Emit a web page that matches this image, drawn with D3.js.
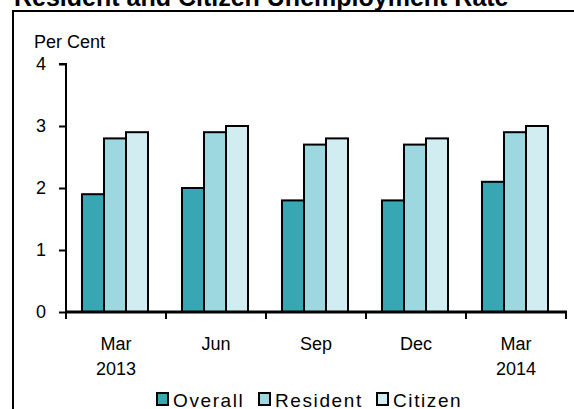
<!DOCTYPE html>
<html>
<head>
<meta charset="utf-8">
<script src="https://cdn.jsdelivr.net/npm/d3@7"></script>
<style>
  html, body { margin: 0; padding: 0; background: #fff; }
  svg { display: block; }
  text { font-family: "Liberation Sans", Arial, sans-serif; fill: #000; }
</style>
</head>
<body>
<svg id="chart" width="574" height="409"></svg>
<script>
// Quarterly unemployment rates (per cent)
const periods = ["Mar 2013", "Jun", "Sep", "Dec", "Mar 2014"];
const periodLines = [["Mar", "2013"], ["Jun"], ["Sep"], ["Dec"], ["Mar", "2014"]];
const seriesNames = ["Overall", "Resident", "Citizen"];
const overall  = [1.9, 2.0, 1.8, 1.8, 2.1];
const resident = [2.8, 2.9, 2.7, 2.7, 2.9];
const citizen  = [2.9, 3.0, 2.8, 2.8, 3.0];
const yTicks = [0, 1, 2, 3, 4];
const colors = ["#37a7b4", "#9dd8e1", "#d1edf1"];

const seriesValues = [overall, resident, citizen];
const rows = periods.map((p, i) => ({
  period: p,
  lines: periodLines[i],
  values: seriesNames.map((s, j) => ({ key: s, value: seriesValues[j][i] }))
}));

const svg = d3.select("#chart");

// Title (runs off the top edge of the frame)
svg.append("text")
  .attr("x", 14).attr("y", 6)
  .style("font-weight", "bold").style("font-size", "25px")
  .text("Resident and Citizen Unemployment Rate");

// Frame around the chart
svg.append("rect")
  .attr("x", 13).attr("y", 11)
  .attr("width", 600).attr("height", 420)
  .attr("fill", "none").attr("stroke", "#000").attr("stroke-width", 2);

const plotLeft = 66, plotRight = 566, plotTop = 64, plotBottom = 312;

const x0 = d3.scaleBand().domain(periods).range([plotLeft, plotRight]).paddingInner(0).paddingOuter(0);
const x1 = d3.scaleBand().domain(seriesNames).range([16, 82]);
const y = d3.scaleLinear().domain([0, 4]).range([plotBottom, plotTop]);
const color = d3.scaleOrdinal().domain(seriesNames).range(colors);

// Bars
const groups = svg.append("g").selectAll("g").data(rows).join("g")
  .attr("transform", d => `translate(${x0(d.period)},0)`);
groups.selectAll("rect").data(d => d.values).join("rect")
  .attr("x", d => x1(d.key))
  .attr("y", d => y(d.value))
  .attr("width", x1.bandwidth())
  .attr("height", d => y(0) - y(d.value))
  .attr("fill", d => color(d.key))
  .attr("stroke", "#000").attr("stroke-width", 2);

// Y axis
const yAxis = svg.append("g")
  .attr("transform", `translate(${plotLeft},0)`)
  .call(d3.axisLeft(y).tickValues(yTicks).tickFormat(d3.format("d")).tickSize(7).tickPadding(13));
yAxis.select(".domain").attr("stroke-width", 2).attr("d", `M-7,${plotTop}H0V${plotBottom}`);
yAxis.selectAll(".tick line").attr("stroke-width", 2);
yAxis.selectAll(".tick text").style("font-size", "18px").style("font-family", "Liberation Sans, Arial, sans-serif");

// X axis: ticks at category boundaries
const xAxisG = svg.append("g").attr("transform", `translate(0,${plotBottom})`);
xAxisG.append("line")
  .attr("x1", plotLeft - 1).attr("x2", plotRight + 1)
  .attr("stroke", "#000").attr("stroke-width", 3);
const boundaries = periods.map(p => x0(p)).concat([x0(periods[periods.length - 1]) + x0.bandwidth()]);
xAxisG.selectAll("line.tk").data(boundaries).join("line")
  .attr("class", "tk")
  .attr("x1", d => d).attr("x2", d => d)
  .attr("y1", 0).attr("y2", 7)
  .attr("stroke", "#000").attr("stroke-width", 2);
const labels = xAxisG.selectAll("text.lbl").data(rows).join("text")
  .attr("class", "lbl")
  .attr("text-anchor", "middle")
  .attr("x", d => x0(d.period) + x0.bandwidth() / 2)
  .style("font-size", "18px");
labels.selectAll("tspan").data(d => d.lines).join("tspan")
  .attr("x", function () { return this.parentNode.getAttribute("x"); })
  .attr("y", (d, i) => 38 + i * 25)
  .text(d => d);

// Axis unit label
svg.append("text")
  .attr("x", 34).attr("y", 48)
  .style("font-size", "18px")
  .text("Per Cent");

// Legend
const legendItems = [
  { key: "Overall", x: 156 },
  { key: "Resident", x: 258 },
  { key: "Citizen", x: 376 }
];
const legend = svg.append("g").selectAll("g").data(legendItems).join("g")
  .attr("transform", d => `translate(${d.x},0)`);
legend.append("rect")
  .attr("x", 1).attr("y", 393).attr("width", 11).attr("height", 12)
  .attr("fill", d => color(d.key))
  .attr("stroke", "#000").attr("stroke-width", 2);
legend.append("text")
  .attr("x", 17).attr("y", 407)
  .style("font-size", "19px").style("letter-spacing", "1.6px")
  .text(d => d.key);
</script>
</body>
</html>
